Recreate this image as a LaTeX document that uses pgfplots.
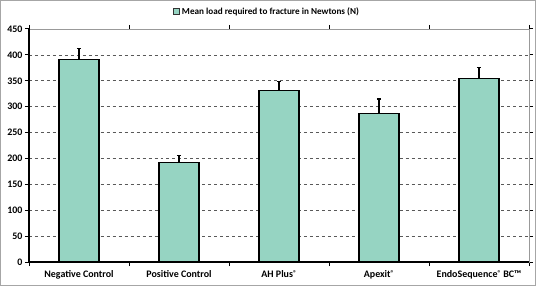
\documentclass[border=0pt]{standalone}
\usepackage{pgfplots}
\pgfplotsset{compat=1.18}
\usepackage{pgfplotstable}
\usepackage{fontspec}
\setmainfont{Carlito}
\definecolor{mint}{RGB}{150,212,194}
\newcommand{\reg}{\raisebox{0.4ex}{\fontsize{7}{7}\selectfont ®}}
\pgfplotstableread{
x y err
0 391 22
1 192 14
2 331 18
3 287 28
4 354 21
}\loadtable
\begin{document}
\begin{tikzpicture}
\begin{axis}[
  scale only axis,
  width=500bp, height=233bp,
  xmin=-0.5, xmax=4.5,
  ymin=0, ymax=450,
  ytick={0,50,...,450},
  xtick={0,1,2,3,4},
  xticklabels={Negative Control, Positive Control, AH Plus\reg, Apexit\reg, EndoSequence\reg{} BC™},
  minor xtick={-0.5,0.5,...,4.5},
  major x tick style={draw=none},
  minor x tick style={black, line width=1bp},
  minor tick length=4bp,
  major tick length=4bp,
  y tick style={black, line width=1bp},
  tick align=outside,
  ymajorgrids,
  major grid style={dashed, gray!70!black, line width=0.7bp},
  axis line style={gray!80, line width=0.8bp},
  /pgf/number format/assume math mode=true,
  ticklabel style={font=\fontsize{10}{12}\selectfont\bfseries},
  xticklabel style={yshift=-1bp},
  yticklabel style={xshift=1bp},
  legend style={at={(0.5,1)}, anchor=south, xshift=-12bp, yshift=10bp, draw=none, fill=none,
    font=\fontsize{9.2}{11}\selectfont\bfseries, inner sep=1bp},
  legend image code/.code={\draw[fill=mint, draw=black!80, line width=0.9bp] (0bp,-3bp) rectangle (6bp,3bp);},
  clip=false,
]
\addplot[ybar, bar width=40bp, fill=mint, draw=black, line width=1.3bp,
  error bars/.cd, y dir=plus, y explicit,
  error bar style={black, line width=1.2bp},
  error mark options={black, rotate=90, mark size=2.2bp, line width=1.2bp}]
  table[x=x, y=y, y error=err]{\loadtable};
\addlegendentry{Mean load required to fracture in Newtons (N)}
\end{axis}
\draw[black, line width=1.3bp] (current axis.north west) -- (current axis.south west) -- (current axis.south east);
\draw[gray!70, line width=1.5bp] ([shift={(-28.25bp,-23.25bp)}]current axis.south west) rectangle ++(534.5bp,284.5bp);
\end{tikzpicture}
\end{document}
